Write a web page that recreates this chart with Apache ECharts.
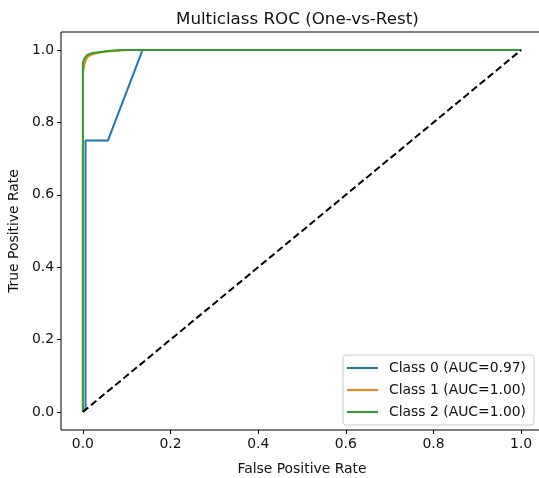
<!DOCTYPE html>
<html>
<head>
<meta charset="utf-8">
<script src="https://cdn.jsdelivr.net/npm/echarts@6/dist/echarts.min.js"></script>
<style>
  html, body { margin: 0; padding: 0; background: #fff; }
  #chart { width: 539px; height: 478px; }
</style>
</head>
<body>
<div id="chart"></div>
<script>
// ROC points: [fpr, tpr]
var class0 = [[0, 0], [0.006, 0.01], [0.006, 0.75], [0.057, 0.75], [0.136, 1.0], [1, 1]]
var class1 = [[0, 0], [0, 0.94], [0.003, 0.955], [0.006, 0.972], [0.012, 0.983], [0.025, 0.99], [0.045, 0.995], [0.075, 0.998], [0.1, 1.0], [1, 1]]
var class2 = [[0, 0], [0, 0.964], [0.003, 0.975], [0.009, 0.986], [0.022, 0.992], [0.04, 0.995], [0.062, 0.998], [0.09, 1.0], [1, 1]]
var chance = [[0, 0], [1, 1]]
var names = ['Class 0 (AUC=0.97)', 'Class 1 (AUC=1.00)', 'Class 2 (AUC=1.00)']
var colors = ['#1f77b4', '#ff7f0e', '#2ca02c']
var ticks = [0, 0.2, 0.4, 0.6, 0.8, 1.0]

var chart = echarts.init(document.getElementById('chart'))
var font = 'DejaVu Sans'
var fs = 13.9

function rocSeries(name, data, color) {
  return {
    name: name,
    type: 'line',
    data: data,
    symbol: 'none',
    lineStyle: { color: color, width: 2 },
    itemStyle: { color: color }
  }
}

function axisCfg(name, gap) {
  return {
    type: 'value',
    min: -0.05,
    max: 1.05,
    name: name,
    nameLocation: 'middle',
    nameGap: gap,
    nameTextStyle: { fontFamily: font, fontSize: fs, color: '#111' },
    splitLine: { show: false },
    axisLine: { show: false, onZero: false },
    axisTick: { show: true, customValues: ticks, length: 4, lineStyle: { color: '#000' } },
    axisLabel: {
      customValues: ticks,
      fontFamily: font,
      fontSize: fs,
      color: '#111',
      margin: 7,
      formatter: function (v) { return v.toFixed(1) }
    }
  }
}

chart.setOption({
  animation: false,
  textStyle: { fontFamily: font },
  title: {
    text: 'Multiclass ROC (One-vs-Rest)',
    left: 171,
    top: 6,
    textStyle: { fontFamily: font, fontSize: 16.7, fontWeight: 'normal', color: '#111' }
  },
  grid: {
    left: 61,
    top: 32,
    width: 482,
    height: 398,
    outerBoundsMode: 'none',
    containLabel: false,
    show: true,
    borderColor: '#000',
    borderWidth: 1,
    backgroundColor: '#fff'
  },
  legend: {
    orient: 'vertical',
    left: 343,
    top: 355,
    padding: [5, 8, 5, 4],
    icon: 'rect',
    itemWidth: 31,
    itemHeight: 2,
    itemGap: 6,
    backgroundColor: 'rgba(255,255,255,0.8)',
    borderColor: '#ccc',
    borderWidth: 1,
    borderRadius: 3,
    textStyle: { fontFamily: font, fontSize: fs, color: '#111', padding: [0, 0, 0, 6], lineHeight: 16 },
    data: names
  },
  xAxis: axisCfg('False Positive Rate', 32),
  yAxis: axisCfg('True Positive Rate', 40),
  series: [
    rocSeries(names[0], class0, colors[0]),
    rocSeries(names[1], class1, colors[1]),
    rocSeries(names[2], class2, colors[2]),
    {
      type: 'line',
      data: chance,
      symbol: 'none',
      lineStyle: { color: '#000', width: 2, type: [7, 3.5] },
      silent: true
    }
  ]
})
</script>
</body>
</html>
